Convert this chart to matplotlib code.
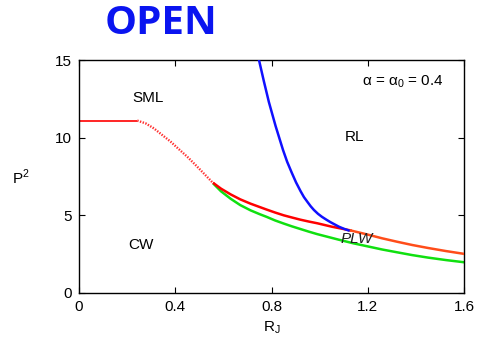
import matplotlib
matplotlib.use("Agg")
import matplotlib.pyplot as plt

# Data
flat_R = [0.0, 0.242]
flat_P = [11.1, 11.1]

dot_R = [0.242, 0.277, 0.311, 0.346, 0.381, 0.415, 0.450, 0.485, 0.519, 0.554, 0.561]
dot_P = [11.1, 10.92, 10.6, 10.17, 9.74, 9.26, 8.77, 8.23, 7.69, 7.13, 7.05]

red_R = [0.561, 0.59, 0.63, 0.67, 0.713, 0.75, 0.78, 0.815, 0.851, 0.885, 0.92, 0.955,
         0.99, 1.05, 1.128]
red_P = [7.05, 6.72, 6.35, 6.03, 5.75, 5.54, 5.37, 5.18, 5.0, 4.86, 4.72, 4.6,
         4.49, 4.27, 4.03]

orange_R = [1.128, 1.2, 1.26, 1.322, 1.385, 1.45, 1.525, 1.6]
orange_P = [4.03, 3.76, 3.52, 3.3, 3.09, 2.9, 2.7, 2.52]

green_R = [0.561, 0.59, 0.63, 0.67, 0.713, 0.75, 0.78, 0.815, 0.851, 0.885, 0.92, 0.955,
           0.99, 1.045, 1.08, 1.14, 1.2, 1.26, 1.322, 1.385, 1.45, 1.525, 1.6]
green_P = [7.0, 6.55, 6.07, 5.66, 5.32, 5.08, 4.9, 4.67, 4.47, 4.29, 4.12, 3.95,
           3.79, 3.57, 3.43, 3.2, 3.0, 2.8, 2.62, 2.44, 2.28, 2.12, 1.98]

blue_R = [0.748, 0.768, 0.789, 0.817, 0.848, 0.865, 0.884, 0.902, 0.921, 0.935, 0.95,
          0.963, 0.976, 0.993, 1.01, 1.028, 1.045, 1.08, 1.1, 1.12]
blue_P = [15.0, 13.65, 12.3, 10.75, 9.2, 8.45, 7.75, 7.12, 6.55, 6.17, 5.85,
          5.58, 5.35, 5.1, 4.9, 4.72, 4.56, 4.27, 4.14, 4.03]

xticks = [0, 0.4, 0.8, 1.2, 1.6]
xticklabels = ["0", "0.4", "0.8", "1.2", "1.6"]
yticks = [0, 5, 10, 15]

plt.rcParams['font.family'] = ['Liberation Sans', 'DejaVu Sans']

fig = plt.figure(figsize=(4.81, 3.44), dpi=100)
ax = fig.add_axes([79/481, 1-293/344, (464-79)/481, (293-60)/344])

ax.plot(flat_R, flat_P, color='#ff0000', lw=1.2, solid_capstyle='butt')
ax.plot(dot_R, dot_P, color='#ff3030', lw=1.7, linestyle=(0, (0.6, 0.6)))
ax.plot(green_R, green_P, color='#10e010', lw=1.8, zorder=2, solid_joinstyle='round')
ax.plot(red_R, red_P, color='#ff0000', lw=1.8, zorder=3, solid_joinstyle='round')
ax.plot(orange_R, orange_P, color='#ff4d1a', lw=1.8, zorder=3, solid_joinstyle='round')
ax.plot(blue_R, blue_P, color='#1010ff', lw=1.8, zorder=4, solid_joinstyle='round')

ax.set_xlim(0, 1.6)
ax.set_ylim(0, 15)
ax.set_xticks(xticks)
ax.set_xticklabels(xticklabels)
ax.set_yticks(yticks)
ax.tick_params(direction='in', top=True, right=True, length=4, labelsize=11, pad=5)
for s in ax.spines.values():
    s.set_linewidth(1.0)

ax.set_xlabel(r"R$_\mathregular{J}$", fontsize=11, labelpad=4)
fig.text(21/481, 1-177/344, r"P$^\mathregular{2}$", fontsize=11, ha='center', va='center')

fig.text(148/481, 1-98/344, "SML", fontsize=11, ha='center', va='center')
fig.text(355/481, 1-137/344, "RL", fontsize=11, ha='center', va='center')
fig.text(141/481, 1-245/344, "CW", fontsize=11, ha='center', va='center')
fig.text(357/481, 1-239/344, "PLW", fontsize=11, ha='center', va='center', style='italic',
         color='#202020')
fig.text(403/481, 1-82/344, r"α = α$_\mathregular{0}$ = 0.4", fontsize=11, ha='center', va='center')

fig.text(161/481, 1-23/344, "OPEN", fontsize=29, fontweight='bold', color='#0a14f0',
         family='Open Sans', ha='center', va='center')

fig.savefig("out.png", dpi=100)
